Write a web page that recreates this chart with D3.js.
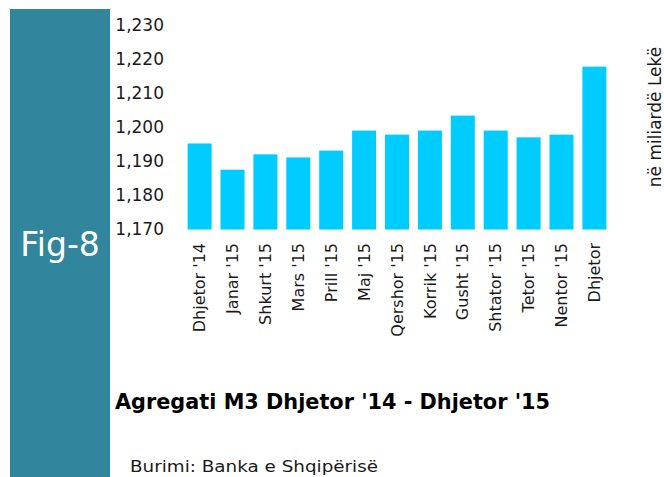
<!DOCTYPE html>
<html>
<head>
<meta charset="utf-8">
<script src="https://cdn.jsdelivr.net/npm/d3@7"></script>
<style>
  html, body { margin: 0; padding: 0; background: #fff; }
  svg { display: block; }
</style>
</head>
<body>
<svg id="chart" width="664" height="477"></svg>
<script>
const categories = ["Dhjetor '14", "Janar '15", "Shkurt '15", "Mars '15", "Prill '15", "Maj '15",
  "Qershor '15", "Korrik '15", "Gusht '15", "Shtator '15", "Tetor '15", "Nentor '15", "Dhjetor"];
const values = [1195.3, 1187.6, 1192.1, 1191.2, 1193.2, 1199.1, 1197.9, 1199.1, 1203.5, 1199.1, 1197.1, 1197.9, 1217.9];
const yTicks = [1170, 1180, 1190, 1200, 1210, 1220, 1230];
const figLabel = "Fig-8";
const title = "Agregati M3 Dhjetor '14 - Dhjetor '15";
const source = "Burimi: Banka e Shqipërisë";
const unitLabel = "në miliardë Lekë";

const svg = d3.select("#chart");
const font = "'DejaVu Sans', sans-serif";
const textColor = "#1a1a1a";

// side panel
svg.append("rect").attr("x", 10).attr("y", 9).attr("width", 100).attr("height", 468).attr("fill", "#31859C");
svg.append("text").attr("x", 60).attr("y", 256).attr("text-anchor", "middle")
  .attr("fill", "#fff").attr("font-family", font).attr("font-size", 33).text(figLabel);

const x = d3.scaleBand().domain(categories).range([183, 611]).paddingInner(0.27).paddingOuter(0.14);
const y = d3.scaleLinear().domain([1170, 1230]).range([229.5, 25.5]);

// bars
svg.append("g").selectAll("rect").data(values).join("rect")
  .attr("x", (d, i) => x(categories[i]))
  .attr("width", x.bandwidth())
  .attr("y", d => y(d))
  .attr("height", d => y(1170) - y(d))
  .attr("fill", "#00CCFF");

// y axis
const yAxis = svg.append("g").attr("transform", "translate(164,0)")
  .call(d3.axisLeft(y).tickValues(yTicks).tickSize(0).tickPadding(0).tickFormat(d3.format(",")));
yAxis.select(".domain").remove();
yAxis.selectAll("text").attr("font-family", font).attr("font-size", 17).attr("fill", textColor);

// x axis
const xAxis = svg.append("g").attr("transform", "translate(0,243)")
  .call(d3.axisBottom(x).tickSize(0).tickPadding(0));
xAxis.select(".domain").remove();
xAxis.selectAll("text")
  .attr("font-family", font).attr("font-size", 16).attr("fill", textColor)
  .attr("text-anchor", "end")
  .attr("transform", "rotate(-90)")
  .attr("x", 0).attr("y", 0).attr("dy", "0.35em");

// unit label
svg.append("text").attr("transform", "translate(655,117) rotate(-90)")
  .attr("text-anchor", "middle").attr("dy", "0.35em")
  .attr("font-family", font).attr("font-size", 17).attr("fill", textColor).text(unitLabel);

// title
svg.append("text").attr("x", 115).attr("y", 409)
  .attr("font-family", font).attr("font-size", 21).attr("font-weight", "bold")
  .attr("fill", "#000").attr("textLength", 435).attr("lengthAdjust", "spacingAndGlyphs").text(title);

// source
svg.append("text").attr("x", 130).attr("y", 472)
  .attr("font-family", font).attr("font-size", 15).attr("fill", textColor)
  .attr("textLength", 248).attr("lengthAdjust", "spacingAndGlyphs").text(source);
</script>
</body>
</html>
